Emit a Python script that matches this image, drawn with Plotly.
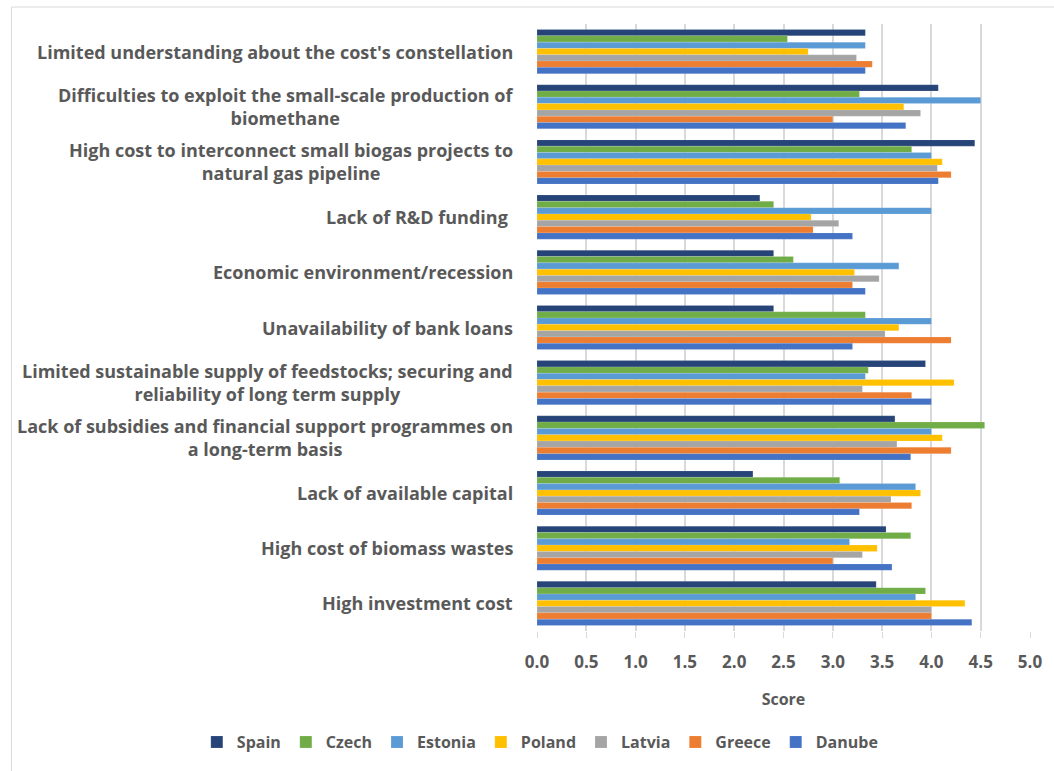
import plotly.graph_objects as go

# Barrier categories (top to bottom) and their wrapped display labels
categories = [
    "Limited understanding about the cost's constellation",
    "Difficulties to exploit the small-scale production of biomethane",
    "High cost to interconnect small biogas projects to natural gas pipeline",
    "Lack of R&D funding",
    "Economic environment/recession",
    "Unavailability of bank loans",
    "Limited sustainable supply of feedstocks; securing and reliability of long term supply",
    "Lack of subsidies and financial support programmes on a long-term basis",
    "Lack of available capital",
    "High cost of biomass wastes",
    "High investment cost",
]
labels = [
    "Limited understanding about the cost's constellation",
    "Difficulties to exploit the small-scale production of<br>biomethane",
    "High cost to interconnect small biogas projects to<br>natural gas pipeline",
    "Lack of R&D funding ",
    "Economic environment/recession",
    "Unavailability of bank loans",
    "Limited sustainable supply of feedstocks; securing and<br>reliability of long term supply",
    "Lack of subsidies and financial support programmes on<br>a long-term basis",
    "Lack of available capital",
    "High cost of biomass wastes",
    "High investment cost",
]

# Scores per country, in category order
spain   = [3.33, 4.07, 4.44, 2.26, 2.40, 2.40, 3.94, 3.63, 2.19, 3.54, 3.44]
czech   = [2.54, 3.27, 3.80, 2.40, 2.60, 3.33, 3.36, 4.54, 3.07, 3.79, 3.94]
estonia = [3.33, 4.50, 4.00, 4.00, 3.67, 4.00, 3.33, 4.00, 3.84, 3.17, 3.84]
poland  = [2.75, 3.72, 4.11, 2.78, 3.22, 3.67, 4.23, 4.11, 3.89, 3.45, 4.34]
latvia  = [3.24, 3.89, 4.06, 3.06, 3.47, 3.53, 3.30, 3.65, 3.59, 3.30, 4.00]
greece  = [3.40, 3.00, 4.20, 2.80, 3.20, 4.20, 3.80, 4.20, 3.80, 3.00, 4.00]
danube  = [3.33, 3.74, 4.07, 3.20, 3.33, 3.20, 4.00, 3.79, 3.27, 3.60, 4.41]

series = [
    ("Spain", spain, "#264478"),
    ("Czech", czech, "#70AD47"),
    ("Estonia", estonia, "#5B9BD5"),
    ("Poland", poland, "#FFC000"),
    ("Latvia", latvia, "#A5A5A5"),
    ("Greece", greece, "#ED7D31"),
    ("Danube", danube, "#4472C4"),
]

FONT = "Open Sans"
GREY = "#595959"

fig = go.Figure()
for name, vals, color in series:
    fig.add_trace(go.Bar(
        y=categories, x=vals, name=name, orientation="h",
        marker=dict(color=color, line=dict(color="rgba(255,255,255,0.45)", width=0.3)),
    ))

# Category labels, centred line by line
for cat, lab in zip(categories, labels):
    fig.add_annotation(
        x=0, xref="paper", y=cat, yref="y", text=lab,
        xanchor="right", yanchor="middle", align="center", xshift=-22,
        showarrow=False, font=dict(family=FONT, size=18, color=GREY, weight="bold"),
    )

# Light chart-area border
fig.add_shape(type="rect", xref="paper", yref="paper",
              x0=-1.066, x1=1.2, y0=-0.3, y1=1.028,
              line=dict(color="#D9D9D9", width=1), fillcolor="rgba(0,0,0,0)")

fig.update_layout(
    width=1054, height=771,
    margin=dict(l=537, r=20, t=24, b=131),
    paper_bgcolor="white", plot_bgcolor="white",
    barmode="group", bargap=0.2, bargroupgap=0,
    font=dict(family=FONT, color=GREY),
    showlegend=True,
    legend=dict(orientation="h", x=-0.69, xanchor="left", y=-0.183, yanchor="middle",
                font=dict(family=FONT, size=16, color=GREY, weight="bold"),
                itemwidth=30, traceorder="normal"),
)
fig.update_xaxes(
    range=[0, 5], dtick=0.5, tickformat=".1f",
    showgrid=True, gridcolor="#D9D9D9", gridwidth=1.5,
    zeroline=False, showline=False,
    ticks="outside", ticklen=6, tickcolor="#D9D9D9",
    ticklabelstandoff=10,
    tickfont=dict(family=FONT, size=17, color=GREY, weight="bold"),
    title=dict(text="Score", font=dict(family=FONT, size=16, color=GREY, weight="bold"), standoff=21),
)
fig.update_yaxes(
    autorange="reversed", showticklabels=False, showgrid=False,
    showline=False, ticks="",
)

fig.write_html("out.html")
